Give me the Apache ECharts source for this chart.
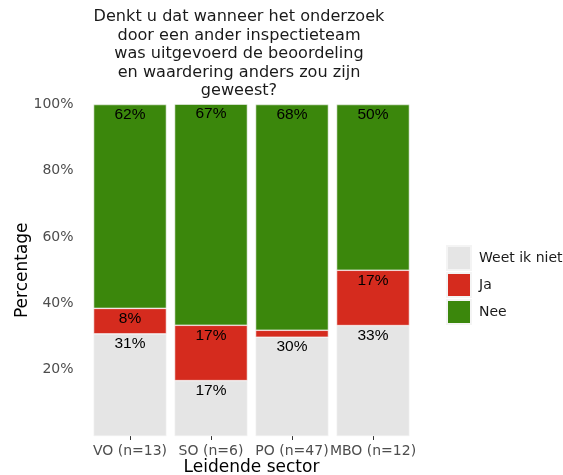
<!DOCTYPE html>
<html>
<head>
<meta charset="utf-8">
<script src="https://cdn.jsdelivr.net/npm/echarts@6/dist/echarts.min.js"></script>
<style>
  html, body { margin: 0; padding: 0; background: #fff; }
  #main { width: 563px; height: 475px; }
</style>
</head>
<body>
<div id="main"></div>
<script>
// data
var sectors = ['VO (n=13)', 'SO (n=6)', 'PO (n=47)', 'MBO (n=12)'];
var weetIkNiet = [30.8, 16.7, 29.8, 33.3];
var ja = [7.7, 16.7, 2.1, 16.7];
var nee = [61.5, 66.7, 68.1, 50.0];
var yTicks = [0, 20, 40, 60, 80, 100];

var myChart = echarts.init(document.getElementById('main'));

function pctLabel(p) {
    // kleine stukjes krijgen geen label
    if (p.value < 5) return '';
    return Math.round(p.value) + '%';
}

function serie(name, data, color) {
    return {
        name: name,
        type: 'bar',
        stack: 'totaal',
        data: data,
        barWidth: '90%',
        itemStyle: { color: color, borderColor: '#f4f4f4', borderWidth: 0.6 },
        label: {
            show: true,
            position: 'insideTop',
            distance: 2,
            formatter: pctLabel,
            color: '#000',
            fontSize: 15.5,
            fontFamily: 'Liberation Sans, Arial, sans-serif'
        },
        emphasis: { disabled: true }
    };
}

var option = {
    animation: false,
    title: {
        text: 'Denkt u dat wanneer het onderzoek\ndoor een ander inspectieteam\nwas uitgevoerd de beoordeling\nen waardering anders zou zijn\ngeweest?',
        left: 234,
        top: 3,
        textAlign: 'center',
        textStyle: {
            fontFamily: 'DejaVu Sans',
            fontWeight: 'normal',
            fontSize: 16.1,
            lineHeight: 18.5,
            color: '#1a1a1a'
        }
    },
    legend: {
        orient: 'vertical',
        left: 446,
        top: 245,
        padding: 0,
        itemWidth: 24,
        itemHeight: 24,
        itemGap: 1,
        icon: 'rect',
        data: ['Weet ik niet', 'Ja', 'Nee'],
        textStyle: { fontFamily: 'DejaVu Sans', fontSize: 14, color: '#1a1a1a', padding: [0, 0, 0, 3] },
        selectedMode: false
    },
    grid: { left: 89.5, right: 149.5, top: 104.5, bottom: 39, outerBoundsMode: 'none' },
    xAxis: {
        type: 'category',
        data: sectors,
        name: 'Leidende sector',
        nameLocation: 'middle',
        nameGap: 23.5,
        nameMoveOverlap: false,
        nameTextStyle: { fontFamily: 'DejaVu Sans', fontSize: 17, color: '#000' },
        axisLine: { show: false },
        axisTick: { show: true, alignWithLabel: true, length: 4, lineStyle: { color: '#333' } },
        axisLabel: { fontFamily: 'DejaVu Sans', fontSize: 14, color: '#4d4d4d', margin: 8, interval: 0 }
    },
    yAxis: {
        type: 'value',
        min: yTicks[0],
        max: yTicks[yTicks.length - 1],
        interval: 20,
        name: 'Percentage',
        nameLocation: 'middle',
        nameGap: 58,
        nameMoveOverlap: false,
        nameTextStyle: { fontFamily: 'DejaVu Sans', fontSize: 17, color: '#000' },
        axisLine: { show: false },
        axisTick: { show: false },
        splitLine: { show: false },
        axisLabel: {
            fontFamily: 'DejaVu Sans',
            fontSize: 14,
            color: '#4d4d4d',
            margin: 16,
            formatter: function (v) { return v === 0 ? '' : v + '%'; }
        }
    },
    series: [
        serie('Weet ik niet', weetIkNiet, '#e5e5e5'),
        serie('Ja', ja, '#d52b1e'),
        serie('Nee', nee, '#3b870c')
    ]
};

myChart.setOption(option);
</script>
</body>
</html>
